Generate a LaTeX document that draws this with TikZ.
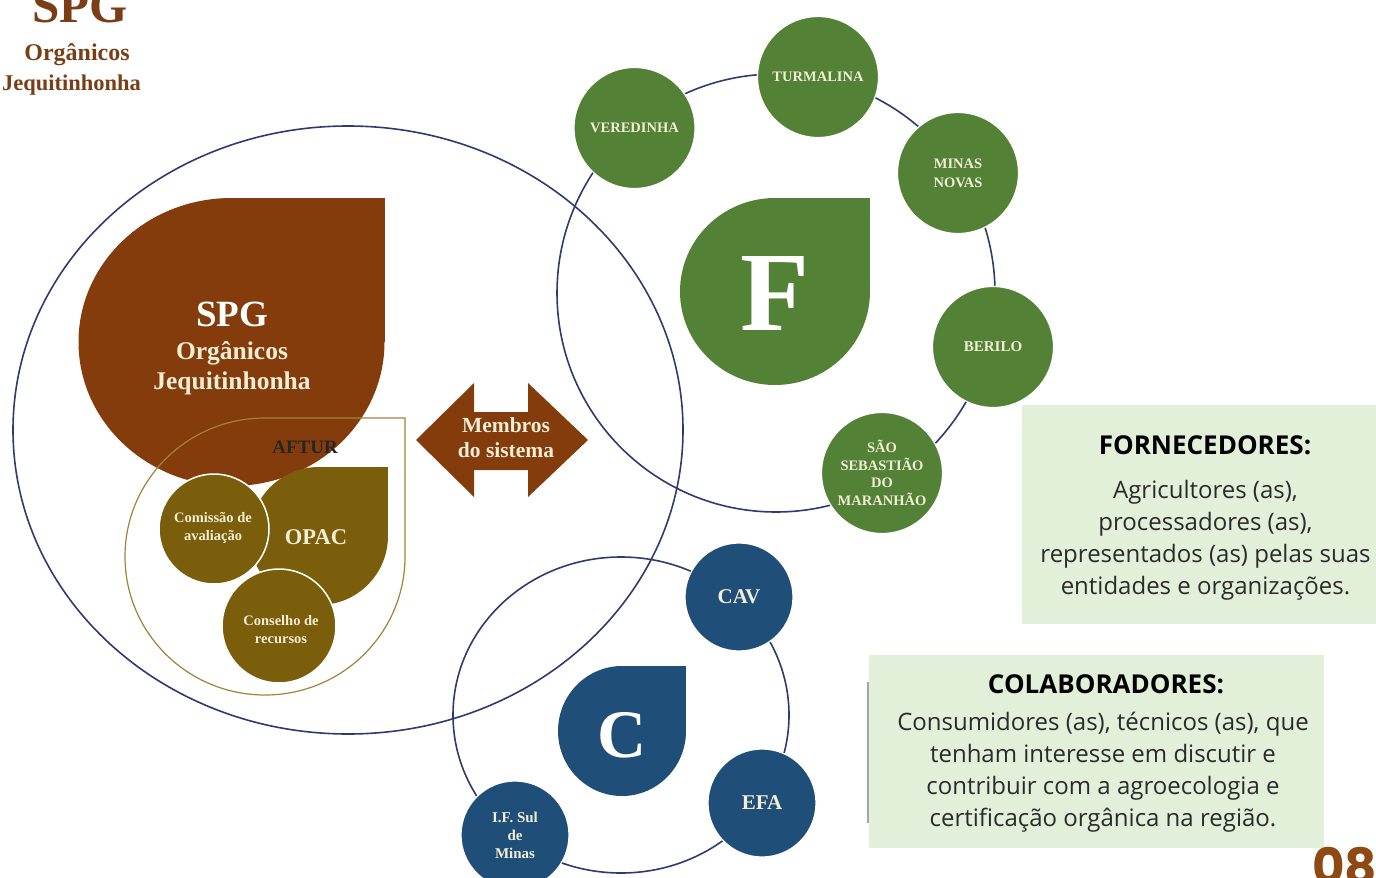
\documentclass[tikz,border=0pt]{standalone}
\usepackage{fontspec}
\setmainfont{Liberation Serif}
\newfontfamily\osans{Open Sans}
\newfontfamily\pops{Poppins}
\definecolor{spgbrown}{HTML}{843C0C}
\definecolor{titlebrown}{HTML}{7A3E17}
\definecolor{olive}{HTML}{7B5E0B}
\definecolor{aftline}{HTML}{A08338}
\definecolor{fgreen}{HTML}{538135}
\definecolor{cblue}{HTML}{1F4E79}
\definecolor{ringc}{HTML}{2E3A70}
\definecolor{cream}{HTML}{F2EDD5}
\definecolor{boxc}{HTML}{E2EFD9}
\definecolor{numc}{HTML}{8F4A14}
\definecolor{bodyc}{HTML}{2B2B2B}
\newcommand\tdrop[5]{\fill[#1] (#2,#3) ellipse[x radius=#4,y radius=#5];
  \fill[#1] (#2,#3) rectangle ++(#4,-#5);}
\begin{document}
\begin{tikzpicture}[x=1pt,y=-1pt,
  ring/.style={draw=ringc,line width=1.6pt},
  gcirc/.style={circle,fill=fgreen,draw=white,line width=1.2pt,minimum size=121pt,inner sep=0pt,
    text=cream,align=center,font=\bfseries\fontsize{14.5}{17.5}\selectfont},
  bcirc/.style={circle,fill=cblue,draw=white,line width=1.2pt,minimum size=108pt,inner sep=0pt,
    text=cream,align=center,font=\bfseries\fontsize{21}{23}\selectfont},
  ocirc/.style={circle,fill=olive,draw=white,line width=1.5pt,inner sep=0pt},
  olab/.style={text=cream,align=center,font=\bfseries\fontsize{14.5}{18}\selectfont},
  ttl/.style={text=titlebrown,font=\bfseries\fontsize{24}{26}\selectfont,anchor=base},
  boxttl/.style={text=black,font=\osans\bfseries\fontsize{26}{28}\selectfont},
  boxbody/.style={text=bodyc,align=center,font=\osans\fontsize{24}{32}\selectfont}]
\useasboundingbox (0,0) rectangle (1376,878);
% title
\node[ttl,font=\bfseries\fontsize{49}{50}\selectfont] (tspg) at (80,23) {SPG};
\node[ttl] (torg) at (77,60) {Orgânicos};
\node[ttl,font=\bfseries\fontsize{22.5}{24}\selectfont] (tjeq) at (71.5,90) {Jequitinhonha};
% rings
\draw[ring] (348,430) ellipse[x radius=335,y radius=304];
\draw[ring] (776,293) circle[radius=219];
\draw[ring] (621,715) ellipse[x radius=168,y radius=158];
% SPG teardrop
\tdrop{spgbrown}{231.5}{342}{153}{144}
% AFTUR outline
\draw[aftline,line width=1.2pt] (405,418) -- (405,556.5) arc[start angle=0,end angle=270,x radius=140,y radius=138.5] -- cycle;
% OPAC group
\tdrop{olive}{319}{536}{69}{69}
\node[ocirc,minimum size=110pt] (com) at (214,529) {};
\node[ocirc,minimum size=114pt] (cons) at (279,626) {};
% arrow
\fill[spgbrown] (416,440) -- (474,383) -- (474,412) -- (528,412) -- (528,383) -- (588,440)
  -- (528,497) -- (528,470) -- (474,470) -- (474,497) -- cycle;
% F and C teardrops
\tdrop{fgreen}{775}{291.5}{95}{93.5}
\tdrop{cblue}{622}{731}{64}{65}
% green circles
\node[gcirc] (vere) at (634.5,128) {VEREDINHA};
\node[gcirc] (turm) at (818,77) {TURMALINA};
\node[gcirc,font=\bfseries\fontsize{14.5}{19}\selectfont] (mnov) at (958,173) {MINAS\\NOVAS};
\node[gcirc,font=\bfseries\fontsize{15}{17}\selectfont] (beri) at (993,347) {BERILO};
\node[gcirc,font=\bfseries\fontsize{14.5}{17.5}\selectfont] (ssm) at (882,473) {SÃO\\SEBASTIÃO\\DO\\MARANHÃO};
% blue circles
\node[bcirc] (cav) at (739,597) {CAV};
\node[bcirc] (efa) at (762,803) {EFA};
\node[bcirc,font=\bfseries\fontsize{15}{18}\selectfont] (ifsm) at (515,835) {I.F. Sul\\de\\Minas};
% texts
\node[text=white,font=\bfseries\fontsize{37}{38}\selectfont,anchor=base] (ispg) at (232,326) {SPG};
\node[text=cream,font=\bfseries\fontsize{25.5}{27}\selectfont,anchor=base] (iorg) at (232,359) {Orgânicos};
\node[text=cream,font=\bfseries\fontsize{25.5}{27}\selectfont,anchor=base] (ijeq) at (232,389) {Jequitinhonha};
\node[text=black!85,font=\bfseries\fontsize{19}{20}\selectfont] (aftur) at (305,447) {AFTUR};
\node[olab] (comt) at (213,528) {Comissão de\\avaliação};
\node[text=cream,font=\bfseries\fontsize{22.5}{24}\selectfont] (opac) at (316,537) {OPAC};
\node[olab] (const) at (281,630) {Conselho de\\recursos};
\node[text=cream,align=center,font=\bfseries\fontsize{21.5}{25}\selectfont] (memb) at (506,438) {Membros\\do sistema};
\node[text=white,font=\bfseries\fontsize{113}{115}\selectfont,anchor=base] (fl) at (775,330) {F};
\node[text=white,font=\bfseries\fontsize{68}{70}\selectfont,anchor=base] (cl) at (622,757) {C};
% boxes
\fill[boxc] (1022,405) rectangle (1376,624);
\node[boxttl] (fort) at (1205,445) {FORNECEDORES:};
\node[boxbody] (forb) at (1205.5,540) {Agricultores (as),\\processadores (as),\\representados (as) pelas suas\\entidades e organizações.};
\fill[boxc] (869,655) rectangle (1324,848);
\draw[gray!70,line width=1.2pt] (868,682) -- (868,823);
\node[boxttl] (colt) at (1106,684) {COLABORADORES:};
\node[boxbody] (colb) at (1103,772.5) {Consumidores (as), técnicos (as), que\\tenham interesse em discutir e\\contribuir com a agroecologia e\\certificação orgânica na região.};
% page number
\node[text=numc,font=\pops\bfseries\fontsize{50}{52}\selectfont,anchor=base west,inner sep=0pt] (num) at (1312,884) {08};
\end{tikzpicture}
\end{document}
